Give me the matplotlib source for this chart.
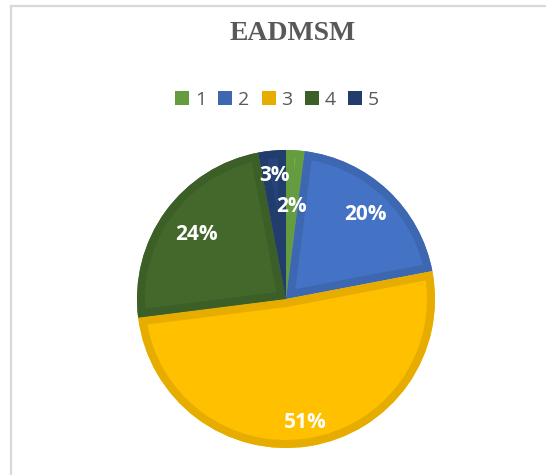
import numpy as np
import matplotlib.pyplot as plt
from matplotlib.lines import Line2D
from matplotlib.patches import Patch, Wedge

title = 'EADMSM'
categories = ['1', '2', '3', '4', '5']
shares = [2, 20, 51, 24, 3]
fill_colors = ['#70AD47', '#4472C4', '#FFC000', '#43682B', '#264478']
edge_colors = ['#659C40', '#3D67B1', '#E6AD00', '#3C5E27', '#223D6C']
label_dist = [0.62, 0.78, 0.84, 0.74, 0.83]

W, H = 546, 475
fig = plt.figure(figsize=(W / 100, H / 100), dpi=100)
fig.patch.set_facecolor('white')

# light grey frame (top + left only visible)
fig.add_artist(Line2D([10.5 / W, 1], [1 - 6 / H, 1 - 6 / H], color='#D9D9D9', lw=1.6))
fig.add_artist(Line2D([10.5 / W, 10.5 / W], [0, 1 - 6 / H], color='#D9D9D9', lw=1.6))

cx, cy, r = 286, 299, 149
ax = fig.add_axes([(cx - 150) / W, (H - cy - 150) / H, 300 / W, 300 / H])
wedges, _ = ax.pie(shares, colors=fill_colors, startangle=90, counterclock=False,
                   radius=r / 150, wedgeprops=dict(linewidth=0))
ax.set_xlim(-1, 1)
ax.set_ylim(-1, 1)
ax.axis('off')

# inner darker border: stroke clipped to the wedge itself
for w, ec in zip(wedges, edge_colors):
    border = Wedge(w.center, w.r, w.theta1, w.theta2,
                   facecolor='none', edgecolor=ec, lw=11.5)
    ax.add_patch(border)
    border.set_clip_path(w)

for w, s, d in zip(wedges, shares, label_dist):
    ang = np.deg2rad((w.theta1 + w.theta2) / 2)
    ax.text(d * w.r * np.cos(ang), d * w.r * np.sin(ang), f'{s}%',
            ha='center', va='center', color='white', fontsize=15,
            fontweight='bold', family='Open Sans')

fig.text(293 / W, 1 - 34 / H, title, ha='center', va='center', fontsize=20,
         fontweight='bold', family='Liberation Serif', color='#595959')

handles = [Patch(facecolor=c, edgecolor='none') for c in edge_colors]
fig.legend(handles, categories, loc='center', bbox_to_anchor=(277 / W, 1 - 100 / H),
           ncol=5, frameon=False, handlelength=0.72, handleheight=0.72,
           handletextpad=0.3, columnspacing=0.62, borderpad=0,
           prop={'family': 'Open Sans', 'size': 14}, labelcolor='#595959')

fig.savefig('out.png', dpi=100, facecolor='white')
